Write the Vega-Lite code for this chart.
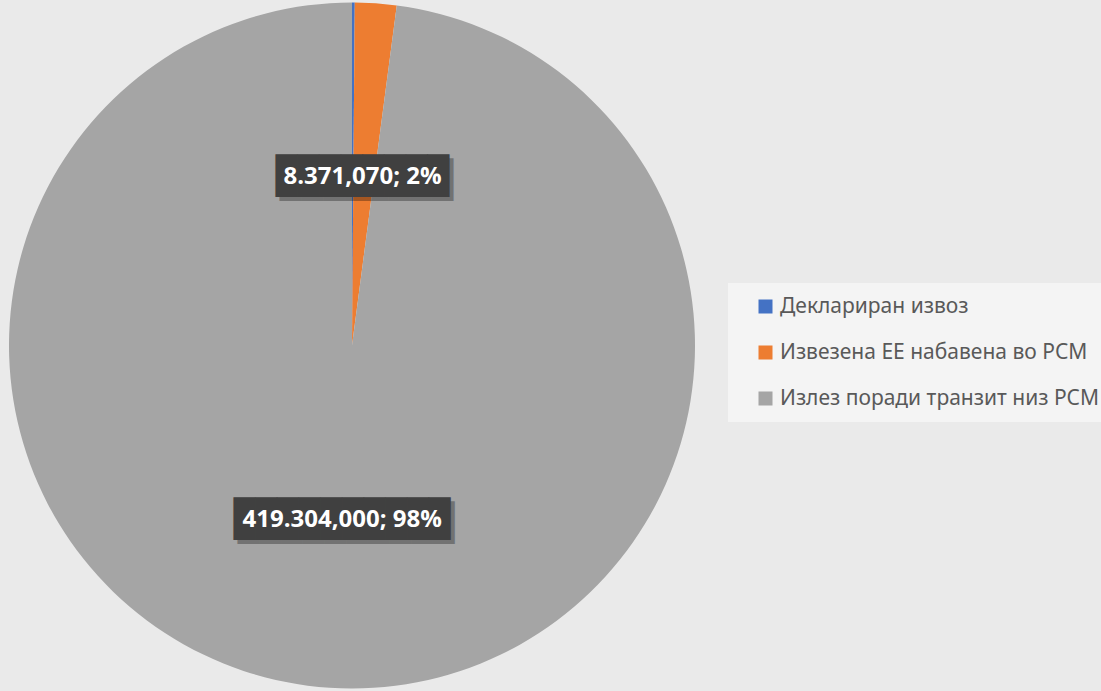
{
  "$schema": "https://vega.github.io/schema/vega-lite/v6.json",
  "width": 704,
  "height": 691,
  "padding": 0,
  "background": "#eaeaea",
  "config": {"view": {"stroke": null}},
  "data": {
    "values": [
      {"idx": 0, "category": "Деклариран извоз", "value": 550000, "label": ""},
      {"idx": 1, "category": "Извезена ЕЕ набавена во РСМ", "value": 8371070, "label": "8.371,070; 2%"},
      {"idx": 2, "category": "Излез поради транзит низ РСМ", "value": 419304000, "label": "419.304,000; 98%"}
    ]
  },
  "encoding": {
    "theta": {"field": "value", "type": "quantitative", "stack": true},
    "order": {"field": "idx", "type": "quantitative"}
  },
  "layer": [
    {
      "mark": {"type": "arc", "outerRadius": 343, "strokeWidth": 0},
      "encoding": {
        "color": {
          "field": "category",
          "type": "nominal",
          "scale": {
            "domain": ["Деклариран извоз", "Извезена ЕЕ набавена во РСМ", "Излез поради транзит низ РСМ"],
            "range": ["#4472C4", "#ED7D31", "#A5A5A5"]
          },
          "legend": {
            "title": null,
            "orient": "none",
            "legendX": 728,
            "legendY": 283,
            "symbolType": "square",
            "symbolSize": 196,
            "symbolStrokeWidth": 0,
            "labelFontSize": 21,
            "labelFont": "Noto Sans",
            "labelColor": "#595959",
            "labelLimit": 400,
            "rowPadding": 24,
            "fillColor": "#f4f4f4",
            "padding": 13,
            "symbolOffset": 14
          }
        }
      }
    },
    {
      "transform": [{"filter": "datum.idx > 0"}],
      "mark": {"type": "text", "radius": 172, "font": "DejaVu Sans Mono", "fontSize": 36, "baseline": "middle", "align": "center", "dx": 4, "dy": 7, "color": "#000000", "opacity": 0.3},
      "encoding": {
        "text": {"condition": {"test": "datum.idx == 1", "value": "████████"}, "value": "██████████"}
      }
    },
    {
      "transform": [{"filter": "datum.idx > 0"}],
      "mark": {"type": "text", "radius": 172, "font": "DejaVu Sans Mono", "fontSize": 36, "baseline": "middle", "align": "center", "dy": 3, "color": "#404040"},
      "encoding": {
        "text": {"condition": {"test": "datum.idx == 1", "value": "████████"}, "value": "██████████"}
      }
    },
    {
      "transform": [{"filter": "datum.idx > 0"}],
      "mark": {"type": "text", "radius": 172, "font": "Open Sans", "fontWeight": "bold", "fontSize": 24, "baseline": "middle", "align": "center", "dy": 3, "color": "#ffffff"},
      "encoding": {
        "text": {"field": "label", "type": "nominal"}
      }
    }
  ]
}
